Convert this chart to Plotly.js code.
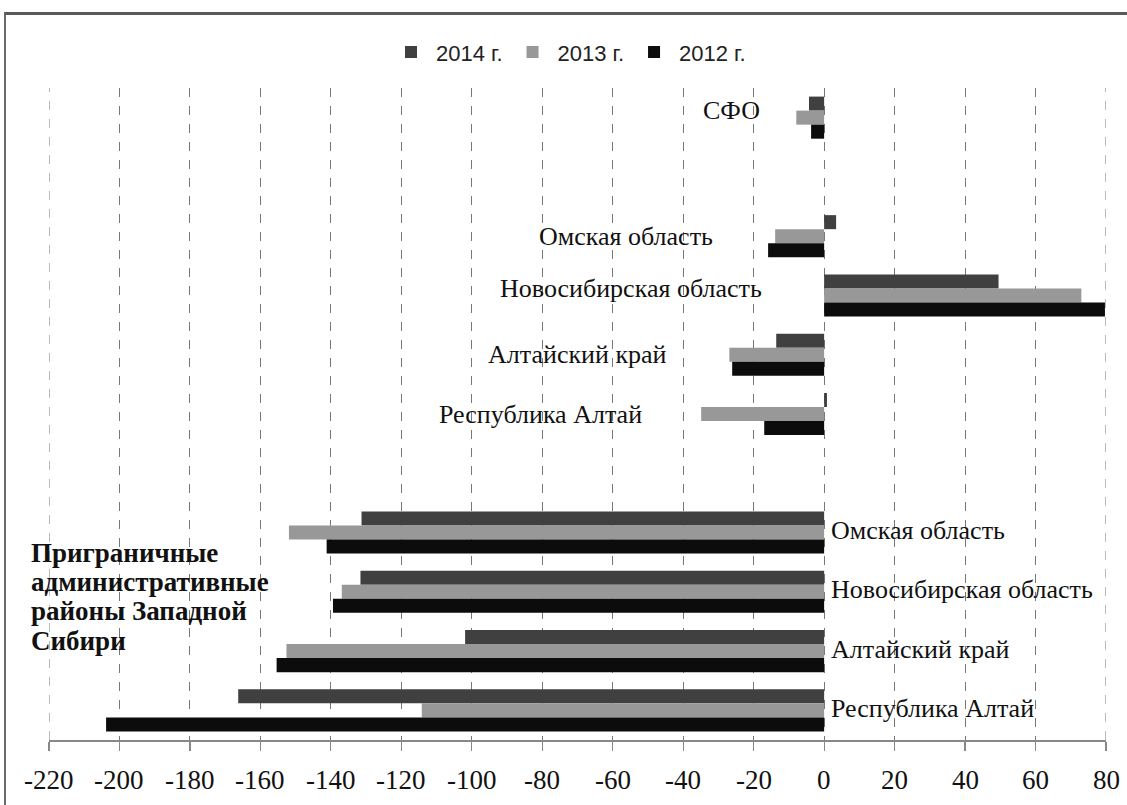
<!DOCTYPE html>
<html>
<head>
<meta charset="utf-8">
<script src="https://cdn.plot.ly/plotly-3.0.1.min.js"></script>
<style>
  html, body { margin: 0; padding: 0; background: #fff; }
  #chart { width: 1127px; height: 805px; }
  #frame { position: absolute; left: 4px; top: 12px; width: 1130px; height: 800px;
           border-top: 3px solid #5a5a5a; border-left: 2px solid #6a6a6a; pointer-events: none; }
</style>
</head>
<body>
<div id="chart"></div>
<div id="frame"></div>
<script>
// Rows from top to bottom ("" = empty spacer row)
const rowLabels = ["СФО", "", "Омская область", "Новосибирская область", "Алтайский край", "Республика Алтай",
                   "", "Омская область", "Новосибирская область", "Алтайский край", "Республика Алтай"];
const years = ["2014 г.", "2013 г.", "2012 г."];
const v2014 = [-4.3, null, 3.4, 49.5, -13.6, 0.8, null, -131.3, -131.6, -101.9, -166.3];
const v2013 = [-7.9, null, -13.9, 73.0, -26.9, -34.9, null, -151.9, -136.9, -152.6, -114.2];
const v2012 = [-3.7, null, -15.9, 79.7, -26.1, -17.0, null, -141.2, -139.4, -155.4, -203.8];
const xTicks = [-220, -200, -180, -160, -140, -120, -100, -80, -60, -40, -20, 0, 20, 40, 60, 80];
const groupTitleLines = ["Приграничные", "административные", "районы Западной", "Сибири"];

const colors = ["#404040", "#989898", "#0c0c0c"];
const series = [v2014, v2013, v2012];
const yIdx = rowLabels.map((_, i) => i);

const traces = series.map((vals, k) => ({
  type: "bar",
  orientation: "h",
  name: years[k],
  x: vals,
  y: yIdx,
  marker: { color: colors[k], line: { width: 0 } },
  hoverinfo: "x+name"
}));

const serif = "Liberation Serif";
// Label positions for the upper group (right-aligned, left of bars) and lower group (left-aligned, right of 0)
const upperLabelX = [-17.5, null, -31, -17, -44, -51];
const upperLabelShift = [7, 0, 0, 7, 0, 0];
const annotations = [];
rowLabels.forEach((lab, i) => {
  if (!lab) return;
  if (i < 6) {
    annotations.push({ x: upperLabelX[i], y: i, xref: "x", yref: "y", text: lab, showarrow: false,
      xanchor: "right", yanchor: "middle", yshift: upperLabelShift[i],
      font: { family: serif, size: 26, color: "#111" } });
  } else {
    annotations.push({ x: 1.5, y: i, xref: "x", yref: "y", text: lab, showarrow: false,
      xanchor: "left", yanchor: "middle", yshift: 2,
      font: { family: serif, size: 26, color: "#111" } });
  }
});
groupTitleLines.forEach((line, k) => {
  annotations.push({ x: -0.019, y: 0.287, xref: "paper", yref: "paper", text: "<b>" + line + "</b>",
    showarrow: false, xanchor: "left", yanchor: "middle", align: "left", yshift: -29.3 * k,
    font: { family: serif, size: 27, color: "#111" } });
});
// Tick labels of the value axis (serif, as text placed at each tick value)
xTicks.forEach(v => {
  annotations.push({ x: v, y: 0, xref: "x", yref: "paper", text: String(v), showarrow: false,
    xanchor: "center", yanchor: "middle", yshift: -40,
    font: { family: serif, size: 27, color: "#111" } });
});

const gridEdge = [xTicks[0], xTicks[xTicks.length - 1]].map(v => ({
  type: "line", xref: "x", yref: "paper", x0: v, x1: v, y0: 0, y1: 1,
  line: { color: "#777", width: 1, dash: "dash" }, layer: "below"
}));

const layout = {
  width: 1127, height: 805,
  margin: { l: 49, r: 21, t: 88, b: 65 },
  paper_bgcolor: "#fff", plot_bgcolor: "#fff",
  barmode: "group", bargap: 0.29, bargroupgap: 0,
  showlegend: true,
  legend: { orientation: "h", x: 0.4915, xanchor: "center", y: 1.055, yanchor: "middle",
            font: { family: "Liberation Sans", size: 22, color: "#222" },
            traceorder: "normal", itemwidth: 40 },
  xaxis: {
    range: [-220, 80], tickvals: xTicks, showticklabels: false,
    showgrid: true, gridcolor: "#777", griddash: "dash", gridwidth: 1,
    zeroline: false, showline: true, linecolor: "#888", linewidth: 1.5,
    ticks: "outside", ticklen: 9, tickcolor: "#888", tickwidth: 1.2,
    fixedrange: true
  },
  yaxis: {
    range: [10.5, -0.5], showticklabels: false, showgrid: false, zeroline: false, showline: false,
    ticks: "", fixedrange: true
  },
  shapes: gridEdge,
  annotations: annotations
};

Plotly.newPlot("chart", traces, layout, { displayModeBar: false, staticPlot: true });
</script>
</body>
</html>
